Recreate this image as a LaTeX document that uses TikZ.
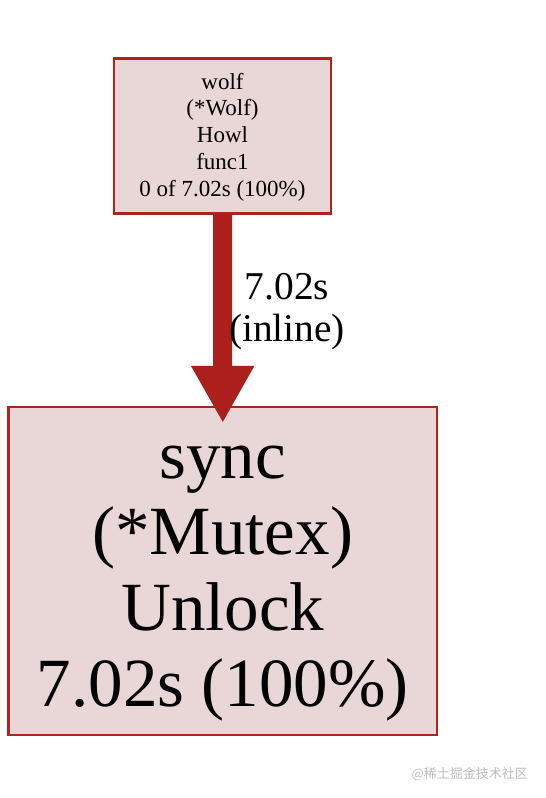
\documentclass[tikz,border=0pt]{standalone}
\usepackage{fontspec}
\setmainfont{Liberation Serif}
\newfontfamily\cjk{Noto Sans CJK SC}
\usetikzlibrary{arrows.meta}
\definecolor{pred}{HTML}{AE231E}
\definecolor{parrow}{HTML}{AC1F1A}
\definecolor{pfill}{HTML}{E9D6D6}
\definecolor{wmgray}{RGB}{190,190,190}
\tikzset{
  funcbox/.style={draw=pred, fill=pfill, line width=2.2pt, inner sep=0pt},
  smalltext/.style={align=center, inner sep=0pt, font=\fontsize{23}{26.7}\selectfont},
  bigtext/.style={align=center, inner sep=0pt, font=\fontsize{69}{76}\selectfont},
  edgetext/.style={align=center, inner sep=0pt, font=\fontsize{39.4}{42}\selectfont},
  callarrow/.style={draw=parrow, line width=19pt, -{Triangle[width=59pt,length=57pt]}, shorten >=-17pt}
}
\begin{document}
\begin{tikzpicture}[x=1pt,y=-1pt]
\useasboundingbox (0,0) rectangle (546,798);
\fill[white] (0,0) rectangle (546,798);
\node[funcbox, minimum width=217pt, minimum height=155pt] (wolf) at (222.5,136) {};
\node[smalltext] (wolft) at (222.5,137) {wolf\\(*Wolf)\\Howl\\func1\\0 of 7.02s (100\%)};
\node[funcbox, minimum width=428.5pt, minimum height=328pt] (sync) at (222.75,571) {};
\node[bigtext] (synct) at (222.75,584) {sync\\(*Mutex)\\Unlock\\7.02s (100\%)};
\draw[callarrow] (wolf.south) -- (sync.north);
\node[edgetext] (lbl) at (287,312) {7.02s\\(inline)};
\node[anchor=east, inner sep=0pt, text=wmgray, font=\cjk\fontsize{13}{15}\selectfont] (wm) at (528,774) {@稀土掘金技术社区};
\end{tikzpicture}
\end{document}
